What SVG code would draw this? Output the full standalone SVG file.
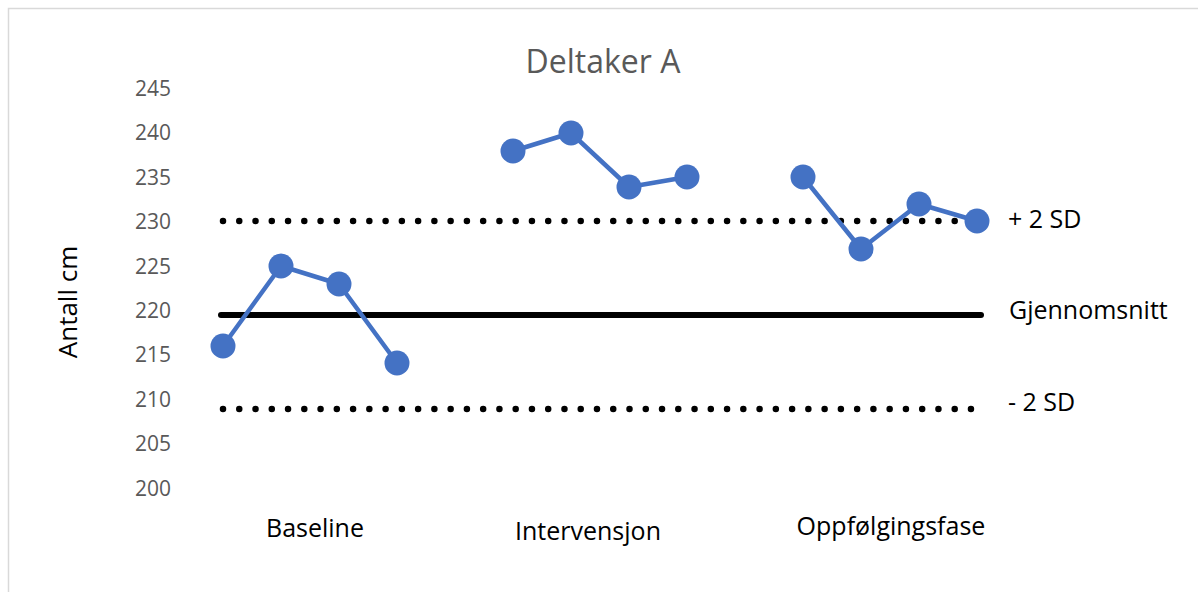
<svg xmlns="http://www.w3.org/2000/svg" width="1198" height="592" viewBox="0 0 1198 592">
  <style>
    text { font-family: "Open Sans", "Liberation Sans", sans-serif; }
    .tick { font-size: 21px; fill: #595959; text-anchor: end; }
    .title { font-size: 32px; fill: #595959; text-anchor: middle; }
    .cat { font-size: 25px; fill: #000; text-anchor: middle; }
    .lbl { font-size: 25px; fill: #000; }
    .axis { font-size: 26px; fill: #000; text-anchor: middle; }
    .dotted { stroke: #000; stroke-width: 6.5; stroke-linecap: round; stroke-dasharray: 0 16.26; fill: none; }
    .mean { stroke: #000; stroke-width: 6; stroke-linecap: round; fill: none; }
    .series { stroke: #4472C4; stroke-width: 4.5; stroke-linejoin: round; fill: none; }
    .pt { fill: #4472C4; }
  </style>
  <rect x="0" y="0" width="1198" height="592" fill="#ffffff"/>
  <rect x="8.5" y="8.5" width="1210" height="620" fill="none" stroke="#d9d9d9" stroke-width="1.5"/>

  <g id="title"><text class="title" x="603" y="73">Deltaker A</text></g>

  <g id="y-axis">
    <text class="tick" x="171" y="96">245</text>
    <text class="tick" x="171" y="140">240</text>
    <text class="tick" x="171" y="185">235</text>
    <text class="tick" x="171" y="229">230</text>
    <text class="tick" x="171" y="274">225</text>
    <text class="tick" x="171" y="318">220</text>
    <text class="tick" x="171" y="362">215</text>
    <text class="tick" x="171" y="407">210</text>
    <text class="tick" x="171" y="451">205</text>
    <text class="tick" x="171" y="496">200</text>
    <text class="axis" transform="translate(77,302) rotate(-90)">Antall cm</text>
  </g>

  <g id="categories">
    <text class="cat" x="315" y="537">Baseline</text>
    <text class="cat" x="588" y="540">Intervensjon</text>
    <text class="cat" x="891" y="535">Oppfølgingsfase</text>
  </g>

  <g id="connectors">
    <line class="dotted" x1="223" y1="221" x2="972" y2="221"/>
    <line class="mean" x1="221" y1="315" x2="981" y2="315"/>
    <line class="dotted" x1="223" y1="409" x2="972" y2="409"/>
    <polyline class="series" points="223,346 281,266 339,284 397,363"/>
    <polyline class="series" points="513,151 571,133 629,187 687,177"/>
    <polyline class="series" points="803,177 861,249 919,204 977,221"/>
  </g>

  <g id="series-points">
    <circle class="pt" cx="223" cy="346" r="12.5"/>
    <circle class="pt" cx="281" cy="266" r="12.5"/>
    <circle class="pt" cx="339" cy="284" r="12.5"/>
    <circle class="pt" cx="397" cy="363" r="12.5"/>
    <circle class="pt" cx="513" cy="151" r="12.5"/>
    <circle class="pt" cx="571" cy="133" r="12.5"/>
    <circle class="pt" cx="629" cy="187" r="12.5"/>
    <circle class="pt" cx="687" cy="177" r="12.5"/>
    <circle class="pt" cx="803" cy="177" r="12.5"/>
    <circle class="pt" cx="861" cy="249" r="12.5"/>
    <circle class="pt" cx="919" cy="204" r="12.5"/>
    <circle class="pt" cx="977" cy="221" r="12.5"/>
  </g>

  <g id="line-labels">
    <text class="lbl" x="1008" y="228">+ 2 SD</text>
    <text class="lbl" x="1009" y="319">Gjennomsnitt</text>
    <text class="lbl" x="1008" y="411">- 2 SD</text>
  </g>
</svg>
